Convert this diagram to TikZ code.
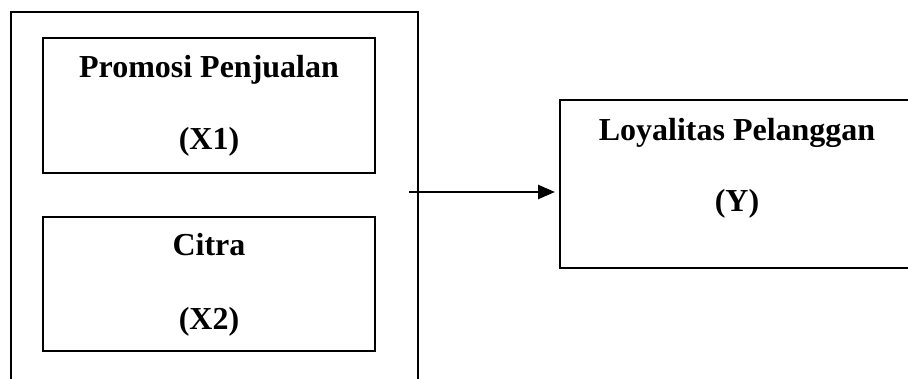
\documentclass[tikz,border=0pt]{standalone}
\usepackage{fontspec}
\setmainfont{Liberation Serif}
\usetikzlibrary{arrows.meta}
\begin{document}
\begin{tikzpicture}[x=1pt,y=-1pt,
  boxline/.style={draw=black,line width=2pt},
  lbl/.style={font=\fontsize{32}{38}\selectfont\bfseries,anchor=base,inner sep=0pt}]
\useasboundingbox (0,0) rectangle (908,379);
\clip (0,0) rectangle (908,379);
% boxes
\draw[boxline] (11,12) rectangle (418,400);
\coordinate (outerright) at (418,192);
\draw[boxline] (43,38) rectangle (375,173);
\draw[boxline] (43,217) rectangle (375,351);
\draw[boxline] (560,100) rectangle (930,268);
\coordinate (ystart) at (409,192);
\coordinate (ywest) at (560,192);
% texts
\node[lbl] (x1a) at (209,78) {Promosi Penjualan};
\node[lbl] (x1b) at (209,150) {(X1)};
\node[lbl] (x2a) at (209,256) {Citra};
\node[lbl] (x2b) at (209,330) {(X2)};
\node[lbl] (ya) at (737,141) {Loyalitas Pelanggan};
\node[lbl] (yb) at (737,212) {(Y)};
% arrow
\draw[line width=2.5pt,-{Triangle[length=17pt,width=14pt]},shorten >=5pt] (ystart) -- (ywest);
\end{tikzpicture}
\end{document}
